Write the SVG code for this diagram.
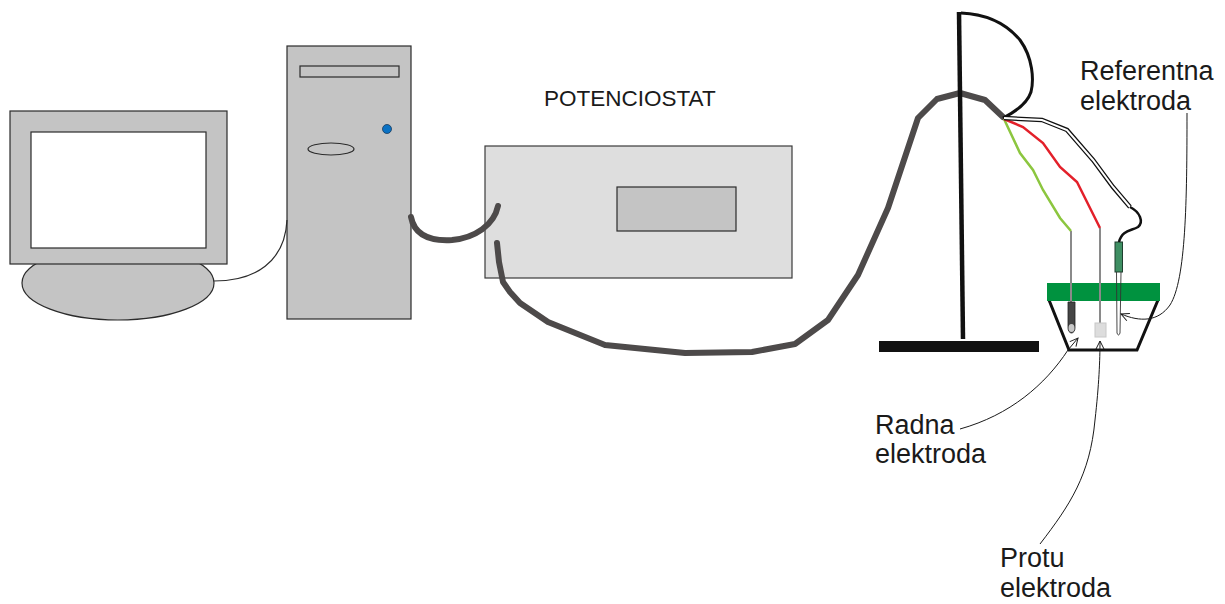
<svg xmlns="http://www.w3.org/2000/svg" width="1225" height="604" viewBox="0 0 1225 604">
  <style>
    .box { fill: #c4c4c4; stroke: #2b2b2b; stroke-width: 1.2; }
    .lbl { font-family: "Liberation Sans", Arial, sans-serif; fill: #1a1a1a; }
    .cable { fill: none; stroke: #4d4a4a; stroke-width: 6; stroke-linejoin: round; stroke-linecap: round; }
    .thin { fill: none; stroke: #2b2b2b; stroke-width: 1.2; }
    .lead { fill: none; stroke: #1a1a1a; stroke-width: 1; marker-end: url(#openhead); }
    .pin { stroke: #8a8a8a; stroke-width: 2; }
  </style>
  <defs>
    <marker id="openhead" viewBox="0 0 10 10" refX="9" refY="5" markerWidth="10" markerHeight="10" markerUnits="userSpaceOnUse" orient="auto">
      <path d="M1,1 L9,5 L1,9" fill="none" stroke="#1a1a1a" stroke-width="1"/>
    </marker>
  </defs>

  <!-- monitor -->
  <g id="monitor">
    <ellipse class="box" cx="118" cy="283" rx="96" ry="37"/>
    <rect class="box" x="10" y="111" width="217" height="153"/>
    <rect x="31" y="132" width="175" height="116" fill="#fff" stroke="#2b2b2b" stroke-width="1.2"/>
  </g>

  <!-- tower -->
  <g id="tower">
    <rect class="box" x="287" y="46" width="124" height="273"/>
    <rect class="box" x="300" y="66" width="99" height="11"/>
    <ellipse class="box" cx="331" cy="149" rx="23" ry="6"/>
    <circle cx="387" cy="129" r="4.5" fill="#0a72c4" stroke="#1a3a5a" stroke-width="0.8"/>
  </g>

  <!-- potentiostat -->
  <g id="potenciostat">
    <rect x="485" y="146" width="307" height="132" fill="#dedede" stroke="#3a3a3a" stroke-width="1.2"/>
    <rect class="box" x="617" y="187" width="119" height="44"/>
    <text class="lbl" x="544" y="106" font-size="22.5">POTENCIOSTAT</text>
  </g>

  <!-- cell -->
  <g id="cell">
    <polyline points="1049,300 1069,350 1137,350 1158,300" fill="none" stroke="#111" stroke-width="3"/>
    <rect x="1047" y="283" width="113" height="18" fill="#00923f"/>
    <line class="pin" x1="1071" y1="231" x2="1071" y2="302"/>
    <line class="pin" x1="1100" y1="228" x2="1100" y2="323"/>
    <!-- working electrode -->
    <path d="M1068,302 L1075,302 L1075,328 A3.5,5 0 0 1 1068,328 Z" fill="#454545" stroke="#222" stroke-width="0.8"/>
    <ellipse cx="1071.5" cy="328" rx="3" ry="4" fill="#c8c8c8"/>
    <!-- counter electrode -->
    <rect x="1095" y="323" width="11" height="14" fill="#dddddd" stroke="#c8c8c8" stroke-width="1"/>
    <!-- reference electrode -->
    <rect x="1115" y="242" width="7.5" height="30" fill="#3f8f63" stroke="#1f3f2f" stroke-width="1"/>
    <path d="M1116.5,272 L1117,333 Q1118.5,337 1120,333 L1121,272" fill="none" stroke="#333" stroke-width="0.9"/>
  </g>

  <!-- connectors -->
  <g id="connectors">
    <!-- monitor to tower -->
    <path class="thin" d="M214,281 C255,281 285,262 287,220"/>
    <!-- tower to potentiostat -->
    <path class="cable" stroke-width="4.5" d="M411,217 C415,238 435,241 452,240 C475,238 494,225 498,206"/>
    <!-- potentiostat to stand -->
    <polyline class="cable" points="497,243 499,262 503,282 510,292 520,303 548,322 605,345 685,353 752,352 795,344 828,320 858,275 888,208 918,118 937,99 960,93 985,100 1003,117"/>
    <!-- wire loop over the stand -->
    <path fill="none" stroke="#111" stroke-width="3" d="M961,13 C985,14 1005,22 1020,40 C1033,58 1034,80 1031,92 C1027,104 1015,112 1003,118"/>
    <!-- electrode leads -->
    <polyline fill="none" stroke="#8cc63f" stroke-width="2.5" points="1004,119 1020,153 1033,170 1043,190 1060,218 1071,231"/>
    <polyline fill="none" stroke="#e3202a" stroke-width="2.5" points="1004,119 1023,127 1043,143 1060,167 1077,182 1100,228"/>
    <path fill="none" stroke="#111" stroke-width="4.5" d="M1004,118 L1042,120 L1067,130 L1093,160 L1113,187 L1130,207"/>
    <path fill="none" stroke="#fff" stroke-width="2" d="M1004,118 L1042,120 L1067,130 L1093,160 L1113,187 L1130,207"/>
    <path fill="none" stroke="#111" stroke-width="2.5" d="M1130,207 C1140,212 1144,222 1138,227 C1131,231 1122,230 1119,242"/>
    <!-- label leaders -->
    <path class="lead" d="M960,429 C1010,415 1045,385 1068,350 L1078,338"/>
    <path class="lead" d="M1040,544 C1070,505 1090,475 1095,420 C1099,385 1100,360 1100,341"/>
    <path class="lead" d="M1187,113 C1187,200 1186,280 1170,305 C1158,322 1140,322 1121,314"/>
  </g>

  <!-- stand -->
  <g id="stand">
    <line x1="959" y1="12" x2="963" y2="339" stroke="#111" stroke-width="4.5"/>
    <rect x="879" y="341" width="160" height="11" fill="#111"/>
  </g>

  <!-- labels -->
  <g id="labels">
    <text class="lbl" x="1080" y="80" font-size="27">Referentna</text>
    <text class="lbl" x="1080" y="110" font-size="27">elektroda</text>
    <text class="lbl" x="875" y="434" font-size="27">Radna</text>
    <text class="lbl" x="875" y="463" font-size="27">elektroda</text>
    <text class="lbl" x="1000" y="567" font-size="27">Protu</text>
    <text class="lbl" x="1000" y="597" font-size="27">elektroda</text>
  </g>
</svg>
